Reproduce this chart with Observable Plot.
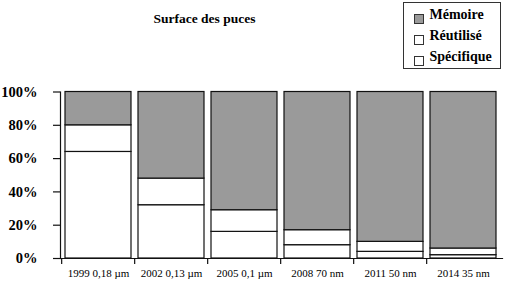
<!DOCTYPE html>
<html>
<head>
<meta charset="utf-8">
<script src="https://cdn.jsdelivr.net/npm/d3@7"></script>
<script src="https://cdn.jsdelivr.net/npm/@observablehq/plot@0.6"></script>
<style>
  body { margin: 0; background: #fff; }
  #wrap { position: relative; width: 508px; height: 282px; font-family: "Liberation Serif", "DejaVu Serif", serif; }
  #chart { position: absolute; left: 0; top: 0; }
  #title { position: absolute; left: 204.5px; top: 12px; transform: translateX(-50%); font-size: 13.5px; font-weight: bold; line-height: 1; white-space: nowrap; color: #000; }
  #legend { position: absolute; left: 403px; top: 2px; width: 98px; height: 67px; box-sizing: border-box; border: 1.5px solid #333; padding-top: 0.6px; padding-left: 10px; background: #fff; }
  .row { height: 21px; line-height: 21px; font-size: 14px; font-weight: bold; white-space: nowrap; }
  .sw { display: inline-block; width: 10px; height: 10px; box-sizing: border-box; border: 1px solid #333; vertical-align: -5px; margin-right: 5.5px; }
</style>
</head>
<body>
<div id="wrap">
  <div id="chart"></div>
  <div id="title">Surface des puces</div>
  <div id="legend"></div>
</div>
<script>
const categories = ["1999 0,18 µm", "2002 0,13 µm", "2005 0,1 µm", "2008 70 nm", "2011 50 nm", "2014 35 nm"];
const series = ["Spécifique", "Réutilisé", "Mémoire"];
const specifique = [64, 32, 16, 8, 4, 2];
const reutilise = [16, 16, 13, 9, 6, 4];
const memoire = [20, 52, 71, 83, 90, 94];
const yTicks = [0, 20, 40, 60, 80, 100];
const colors = ["#ffffff", "#ffffff", "#9a9a9a"];
const legendOrder = ["Mémoire", "Réutilisé", "Spécifique"];

const valuesBySeries = [specifique, reutilise, memoire];
const rows = [];
categories.forEach((c, i) => {
  series.forEach((s, j) => rows.push({cat: c, series: s, value: valuesBySeries[j][i]}));
});

const W = 508, H = 282, ML = 60, MR = 6, MT = 91.5, MB = 24;
const step = (W - ML - MR) / categories.length;
const font = "Liberation Serif, DejaVu Serif, serif";

const chart = Plot.plot({
  width: W,
  height: H,
  marginLeft: ML,
  marginRight: MR,
  marginTop: MT,
  marginBottom: MB,
  style: {fontFamily: font, color: "#000", background: "transparent"},
  x: {domain: categories, paddingInner: 0.09, paddingOuter: 0.045, label: null},
  y: {domain: [0, 100], label: null},
  color: {domain: series, range: colors},
  marks: [
    Plot.barY(rows, Plot.stackY({order: null}, {x: "cat", y: "value", fill: "series", stroke: "#111", strokeWidth: 1.2})),
    Plot.frame({anchor: "left", stroke: "#111", strokeWidth: 1.2}),
    Plot.frame({anchor: "bottom", stroke: "#111", strokeWidth: 1.2}),
    Plot.axisY({ticks: yTicks, tickSize: 7, tickPadding: 16, tickFormat: d => d + "%", fontSize: 14.5, fontWeight: "bold", stroke: "#111", strokeWidth: 1.2, label: null}),
    Plot.axisX({tickSize: 6, text: null, dx: -step / 2, stroke: "#111", strokeWidth: 1.2, label: null}),
    Plot.axisX({tickSize: 0, tickPadding: 11, fontSize: 11, label: null})
  ]
});
document.getElementById("chart").appendChild(chart);

const legend = document.getElementById("legend");
legendOrder.forEach(s => {
  const row = document.createElement("div");
  row.className = "row";
  const sw = document.createElement("span");
  sw.className = "sw";
  sw.style.background = colors[series.indexOf(s)];
  row.appendChild(sw);
  row.appendChild(document.createTextNode(s));
  legend.appendChild(row);
});
</script>
</body>
</html>
